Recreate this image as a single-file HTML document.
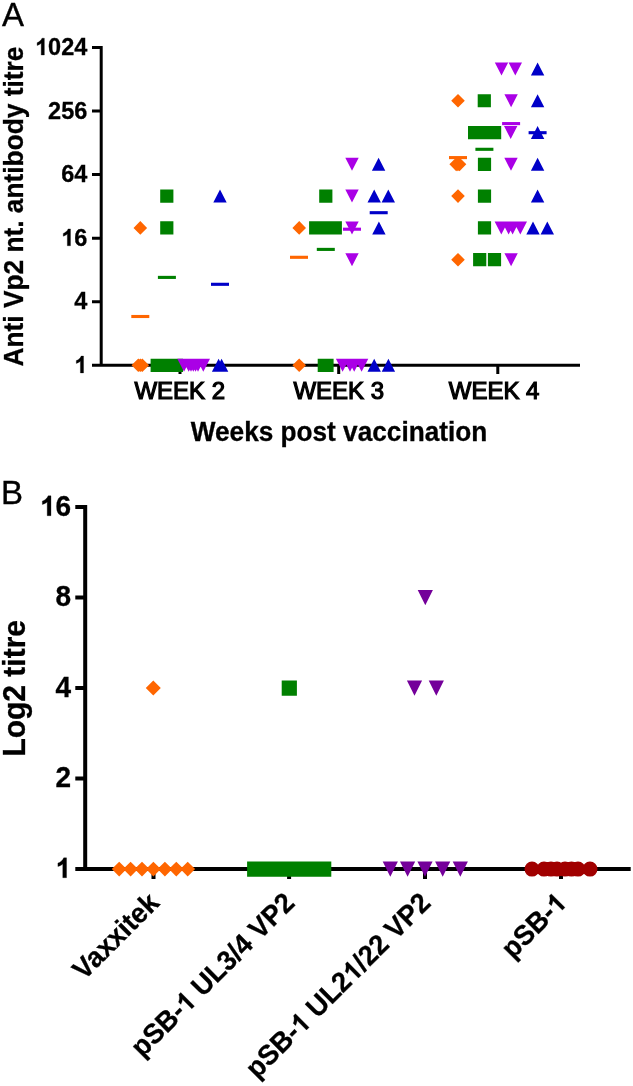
<!DOCTYPE html>
<html><head><meta charset="utf-8"><style>
html,body{margin:0;padding:0;background:#fff;}
svg{display:block;will-change:transform;}
</style></head><body>
<svg width="633" height="1086" viewBox="0 0 633 1086">
<rect width="633" height="1086" fill="#fff"/>
<path d="M99.70 45.90H102.70V366.80H99.70ZM92.00 45.90H101.20V48.90H92.00ZM92.00 109.48H101.20V112.48H92.00ZM92.00 173.06H101.20V176.06H92.00ZM92.00 236.64H101.20V239.64H92.00ZM92.00 300.22H101.20V303.22H92.00ZM92.00 363.80H101.20V366.80H92.00ZM99.70 363.80H580.00V366.80H99.70ZM178.50 365.30H181.50V374.00H178.50ZM337.20 365.30H340.20V374.00H337.20ZM496.30 365.30H499.30V374.00H496.30Z" fill="#000"/>
<path d="M140.30 221.11L147.10 227.91L140.30 234.71L133.50 227.91ZM138.30 358.50L145.10 365.30L138.30 372.10L131.50 365.30ZM140.30 358.50L147.10 365.30L140.30 372.10L133.50 365.30ZM142.30 358.50L149.10 365.30L142.30 372.10L135.50 365.30ZM299.20 221.11L306.00 227.91L299.20 234.71L292.40 227.91ZM299.20 358.50L306.00 365.30L299.20 372.10L292.40 365.30ZM458.00 93.95L464.80 100.75L458.00 107.55L451.20 100.75ZM456.20 157.53L463.00 164.33L456.20 171.13L449.40 164.33ZM457.90 157.53L464.70 164.33L457.90 171.13L451.10 164.33ZM459.50 157.53L466.30 164.33L459.50 171.13L452.70 164.33ZM458.00 189.32L464.80 196.12L458.00 202.92L451.20 196.12ZM458.00 252.90L464.80 259.70L458.00 266.50L451.20 259.70Z" fill="#FF6600"/>
<path d="M160.20 189.52H173.40V202.72H160.20ZM160.20 221.31H173.40V234.51H160.20ZM150.60 358.70H163.80V371.90H150.60ZM153.80 358.70H167.00V371.90H153.80ZM157.00 358.70H170.20V371.90H157.00ZM160.20 358.70H173.40V371.90H160.20ZM163.40 358.70H176.60V371.90H163.40ZM166.60 358.70H179.80V371.90H166.60ZM169.80 358.70H183.00V371.90H169.80ZM319.20 189.52H332.40V202.72H319.20ZM309.10 221.31H322.30V234.51H309.10ZM318.90 221.31H332.10V234.51H318.90ZM328.70 221.31H341.90V234.51H328.70ZM317.70 358.70H330.90V371.90H317.70ZM320.40 358.70H333.60V371.90H320.40ZM477.70 94.15H490.90V107.35H477.70ZM468.00 125.94H481.20V139.14H468.00ZM478.00 125.94H491.20V139.14H478.00ZM488.00 125.94H501.20V139.14H488.00ZM477.90 157.73H491.10V170.93H477.90ZM477.90 189.52H491.10V202.72H477.90ZM477.90 221.31H491.10V234.51H477.90ZM473.10 253.10H486.30V266.30H473.10ZM487.90 253.10H501.10V266.30H487.90Z" fill="#008000"/>
<path d="M177.30 358.80L190.70 358.80L184.00 371.80ZM182.00 358.80L195.40 358.80L188.70 371.80ZM184.30 358.80L197.70 358.80L191.00 371.80ZM186.60 358.80L200.00 358.80L193.30 371.80ZM188.90 358.80L202.30 358.80L195.60 371.80ZM191.30 358.80L204.70 358.80L198.00 371.80ZM196.60 358.80L210.00 358.80L203.30 371.80ZM345.30 157.83L358.70 157.83L352.00 170.83ZM345.30 189.62L358.70 189.62L352.00 202.62ZM345.30 221.41L358.70 221.41L352.00 234.41ZM345.30 253.20L358.70 253.20L352.00 266.20ZM335.90 358.80L349.30 358.80L342.60 371.80ZM343.30 358.80L356.70 358.80L350.00 371.80ZM347.50 358.80L360.90 358.80L354.20 371.80ZM354.90 358.80L368.30 358.80L361.60 371.80ZM494.80 62.46L508.20 62.46L501.50 75.46ZM508.60 62.46L522.00 62.46L515.30 75.46ZM504.40 94.25L517.80 94.25L511.10 107.25ZM504.00 126.04L517.40 126.04L510.70 139.04ZM504.30 157.83L517.70 157.83L511.00 170.83ZM494.60 221.41L508.00 221.41L501.30 234.41ZM501.90 221.41L515.30 221.41L508.60 234.41ZM505.90 221.41L519.30 221.41L512.60 234.41ZM513.60 221.41L527.00 221.41L520.30 234.41ZM504.40 253.20L517.80 253.20L511.10 266.20Z" fill="#AA00E6"/>
<path d="M220.00 189.62L226.70 202.62L213.30 202.62ZM218.60 358.80L225.30 371.80L211.90 371.80ZM221.60 358.80L228.30 371.80L214.90 371.80ZM378.60 157.83L385.30 170.83L371.90 170.83ZM374.20 189.62L380.90 202.62L367.50 202.62ZM388.30 189.62L395.00 202.62L381.60 202.62ZM378.90 221.41L385.60 234.41L372.20 234.41ZM374.20 358.80L380.90 371.80L367.50 371.80ZM388.40 358.80L395.10 371.80L381.70 371.80ZM537.60 62.46L544.30 75.46L530.90 75.46ZM537.60 94.25L544.30 107.25L530.90 107.25ZM537.60 126.04L544.30 139.04L530.90 139.04ZM537.60 157.83L544.30 170.83L530.90 170.83ZM537.60 189.62L544.30 202.62L530.90 202.62ZM533.00 221.41L539.70 234.41L526.30 234.41ZM547.30 221.41L554.00 234.41L540.60 234.41Z" fill="#0000C8"/>
<rect x="131.30" y="314.95" width="18.00" height="3.10" fill="#FF6600"/>
<rect x="157.90" y="275.85" width="18.00" height="3.10" fill="#008000"/>
<rect x="211.00" y="282.75" width="18.00" height="3.10" fill="#0000C8"/>
<rect x="290.00" y="255.75" width="18.00" height="3.10" fill="#FF6600"/>
<rect x="316.80" y="247.85" width="18.00" height="3.10" fill="#008000"/>
<rect x="343.00" y="227.65" width="18.00" height="3.10" fill="#AA00E6"/>
<rect x="369.70" y="211.15" width="18.00" height="3.10" fill="#0000C8"/>
<rect x="449.00" y="156.05" width="18.00" height="3.10" fill="#FF6600"/>
<rect x="475.40" y="147.75" width="18.00" height="3.10" fill="#008000"/>
<rect x="502.10" y="122.05" width="18.00" height="3.10" fill="#AA00E6"/>
<rect x="528.60" y="131.15" width="18.00" height="3.10" fill="#0000C8"/>
<path d="M83.20 505.10H87.20V871.10H83.20ZM75.30 505.10H85.20V509.10H75.30ZM75.30 595.60H85.20V599.60H75.30ZM75.30 686.10H85.20V690.10H75.30ZM75.30 776.60H85.20V780.60H75.30ZM75.30 867.10H85.20V871.10H75.30ZM83.20 867.10H630.70V871.10H83.20ZM151.50 869.10H155.50V879.00H151.50ZM287.10 869.10H291.10V879.00H287.10ZM423.00 869.10H427.00V879.00H423.00ZM559.00 869.10H563.00V879.00H559.00Z" fill="#000"/>
<path d="M119.20 861.70L126.60 869.10L119.20 876.50L111.80 869.10ZM130.60 861.70L138.00 869.10L130.60 876.50L123.20 869.10ZM142.00 861.70L149.40 869.10L142.00 876.50L134.60 869.10ZM153.40 861.70L160.80 869.10L153.40 876.50L146.00 869.10ZM164.90 861.70L172.30 869.10L164.90 876.50L157.50 869.10ZM176.30 861.70L183.70 869.10L176.30 876.50L168.90 869.10ZM187.70 861.70L195.10 869.10L187.70 876.50L180.30 869.10ZM153.30 680.60L160.80 688.10L153.30 695.60L145.80 688.10Z" fill="#FF6600"/>
<path d="M247.10 861.50H262.30V876.70H247.10ZM258.60 861.50H273.80V876.70H258.60ZM270.10 861.50H285.30V876.70H270.10ZM281.60 861.50H296.80V876.70H281.60ZM293.10 861.50H308.30V876.70H293.10ZM304.60 861.50H319.80V876.70H304.60ZM316.10 861.50H331.30V876.70H316.10ZM281.70 680.50H296.90V695.70H281.70Z" fill="#008000"/>
<path d="M382.70 861.50L397.90 861.50L390.30 876.70ZM400.00 861.50L415.20 861.50L407.60 876.70ZM417.40 861.50L432.60 861.50L425.00 876.70ZM435.10 861.50L450.30 861.50L442.70 876.70ZM452.70 861.50L467.90 861.50L460.30 876.70ZM406.90 680.50L422.10 680.50L414.50 695.70ZM428.70 680.50L443.90 680.50L436.30 695.70ZM417.70 590.00L432.90 590.00L425.30 605.20Z" fill="#74009A"/>
<path d="M524.50 869.10a7.50 7.50 0 1 0 15.00 0a7.50 7.50 0 1 0 -15.00 0ZM536.50 869.10a7.50 7.50 0 1 0 15.00 0a7.50 7.50 0 1 0 -15.00 0ZM543.50 869.10a7.50 7.50 0 1 0 15.00 0a7.50 7.50 0 1 0 -15.00 0ZM549.50 869.10a7.50 7.50 0 1 0 15.00 0a7.50 7.50 0 1 0 -15.00 0ZM557.50 869.10a7.50 7.50 0 1 0 15.00 0a7.50 7.50 0 1 0 -15.00 0ZM564.00 869.10a7.50 7.50 0 1 0 15.00 0a7.50 7.50 0 1 0 -15.00 0ZM570.50 869.10a7.50 7.50 0 1 0 15.00 0a7.50 7.50 0 1 0 -15.00 0ZM582.50 869.10a7.50 7.50 0 1 0 15.00 0a7.50 7.50 0 1 0 -15.00 0Z" fill="#A10000"/>
<text transform="translate(2.1,25.9) scale(1,1.03)" font-family="Liberation Sans, sans-serif" font-size="33" fill="#000" stroke="#000" stroke-width="0.35">A</text>
<g transform="translate(87.3,55.00) scale(1,1.04)"><text id="t0" x="0" y="0" font-family="Liberation Sans, sans-serif" font-size="23.5" font-weight="bold" text-anchor="end"  stroke="#000" stroke-width="0.3">&#x2007;024</text><path transform="translate(-52.27,0.00) scale(0.01147,-0.01103)" d="M538 0H813V1466H606C576 1376 514 1292 424 1216C334 1140 262 1098 182 1077V827C262 851 343 887 414 928C485 969 538 1010 538 1036Z" stroke="#000" stroke-width="26.14468085106383" stroke-linejoin="round"/></g>
<g transform="translate(87.3,118.58) scale(1,1.04)"><text id="t1" x="0" y="0" font-family="Liberation Sans, sans-serif" font-size="23.5" font-weight="bold" text-anchor="end"  stroke="#000" stroke-width="0.3">256</text></g>
<g transform="translate(87.3,182.16) scale(1,1.04)"><text id="t2" x="0" y="0" font-family="Liberation Sans, sans-serif" font-size="23.5" font-weight="bold" text-anchor="end"  stroke="#000" stroke-width="0.3">64</text></g>
<g transform="translate(87.3,245.74) scale(1,1.04)"><text id="t3" x="0" y="0" font-family="Liberation Sans, sans-serif" font-size="23.5" font-weight="bold" text-anchor="end"  stroke="#000" stroke-width="0.3">&#x2007;6</text><path transform="translate(-26.14,0.00) scale(0.01147,-0.01103)" d="M538 0H813V1466H606C576 1376 514 1292 424 1216C334 1140 262 1098 182 1077V827C262 851 343 887 414 928C485 969 538 1010 538 1036Z" stroke="#000" stroke-width="26.14468085106383" stroke-linejoin="round"/></g>
<g transform="translate(87.3,309.32) scale(1,1.04)"><text id="t4" x="0" y="0" font-family="Liberation Sans, sans-serif" font-size="23.5" font-weight="bold" text-anchor="end"  stroke="#000" stroke-width="0.3">4</text></g>
<g transform="translate(87.3,372.90) scale(1,1.04)"><text id="t5" x="0" y="0" font-family="Liberation Sans, sans-serif" font-size="23.5" font-weight="bold" text-anchor="end"  stroke="#000" stroke-width="0.3">&#x2007;</text><path transform="translate(-13.08,0.00) scale(0.01147,-0.01103)" d="M538 0H813V1466H606C576 1376 514 1292 424 1216C334 1140 262 1098 182 1077V827C262 851 343 887 414 928C485 969 538 1010 538 1036Z" stroke="#000" stroke-width="26.14468085106383" stroke-linejoin="round"/></g>
<g transform="translate(23.4,366.5) rotate(-90) scale(1,1.05)"><text id="t6" x="0" y="0" font-family="Liberation Sans, sans-serif" font-size="26.3" font-weight="bold" text-anchor="start"  stroke="#000" stroke-width="0.3">Anti Vp2 nt. antibody titre</text></g>
<g transform="translate(179.8,399) scale(1,1.0)"><text id="t7" x="0" y="0" font-family="Liberation Sans, sans-serif" font-size="24" font-weight="normal" text-anchor="middle" stroke="#000" stroke-width="1.2">WEEK 2</text></g>
<g transform="translate(338.79999999999995,399) scale(1,1.0)"><text id="t8" x="0" y="0" font-family="Liberation Sans, sans-serif" font-size="24" font-weight="normal" text-anchor="middle" stroke="#000" stroke-width="1.2">WEEK 3</text></g>
<g transform="translate(494.09999999999997,399) scale(1,1.0)"><text id="t9" x="0" y="0" font-family="Liberation Sans, sans-serif" font-size="24" font-weight="normal" text-anchor="middle" stroke="#000" stroke-width="1.2">WEEK 4</text></g>
<g transform="translate(339,441) scale(1,1.04)"><text id="t10" x="0" y="0" font-family="Liberation Sans, sans-serif" font-size="26.2" font-weight="bold" text-anchor="middle"  stroke="#000" stroke-width="0.3">Weeks post vaccination</text></g>
<text transform="translate(0.9,504.0) scale(1,1.03)" font-family="Liberation Sans, sans-serif" font-size="33" fill="#000" stroke="#000" stroke-width="0.35">B</text>
<g transform="translate(71,515.70) scale(1,1.03)"><text id="t11" x="0" y="0" font-family="Liberation Sans, sans-serif" font-size="28" font-weight="bold" text-anchor="end"  stroke="#000" stroke-width="0.3">&#x2007;6</text><path transform="translate(-31.14,0.00) scale(0.01367,-0.01314)" d="M538 0H813V1466H606C576 1376 514 1292 424 1216C334 1140 262 1098 182 1077V827C262 851 343 887 414 928C485 969 538 1010 538 1036Z" stroke="#000" stroke-width="21.942857142857143" stroke-linejoin="round"/></g>
<g transform="translate(71,606.20) scale(1,1.03)"><text id="t12" x="0" y="0" font-family="Liberation Sans, sans-serif" font-size="28" font-weight="bold" text-anchor="end"  stroke="#000" stroke-width="0.3">8</text></g>
<g transform="translate(71,696.70) scale(1,1.03)"><text id="t13" x="0" y="0" font-family="Liberation Sans, sans-serif" font-size="28" font-weight="bold" text-anchor="end"  stroke="#000" stroke-width="0.3">4</text></g>
<g transform="translate(71,787.20) scale(1,1.03)"><text id="t14" x="0" y="0" font-family="Liberation Sans, sans-serif" font-size="28" font-weight="bold" text-anchor="end"  stroke="#000" stroke-width="0.3">2</text></g>
<g transform="translate(71,877.70) scale(1,1.03)"><text id="t15" x="0" y="0" font-family="Liberation Sans, sans-serif" font-size="28" font-weight="bold" text-anchor="end"  stroke="#000" stroke-width="0.3">&#x2007;</text><path transform="translate(-15.58,0.00) scale(0.01367,-0.01314)" d="M538 0H813V1466H606C576 1376 514 1292 424 1216C334 1140 262 1098 182 1077V827C262 851 343 887 414 928C485 969 538 1010 538 1036Z" stroke="#000" stroke-width="21.942857142857143" stroke-linejoin="round"/></g>
<g transform="translate(24.8,756.6) rotate(-90) scale(1,1.04)"><text id="t16" x="0" y="0" font-family="Liberation Sans, sans-serif" font-size="30" font-weight="bold" text-anchor="start"  stroke="#000" stroke-width="0.3">Log2 titre</text></g>
<g transform="translate(160.5,904.5) rotate(-45) scale(1,1.04)"><text id="t17" x="0" y="0" font-family="Liberation Sans, sans-serif" font-size="27" font-weight="bold" text-anchor="end"  stroke="#000" stroke-width="0.3">Vaxxitek</text></g>
<g transform="translate(296.1,904.5) rotate(-45) scale(1,1.04)"><text id="t18" x="0" y="0" font-family="Liberation Sans, sans-serif" font-size="27" font-weight="bold" text-anchor="end"  stroke="#000" stroke-width="0.3">pSB-&#x2007; UL3/4 VP2</text><path transform="translate(-154.52,0.00) scale(0.01318,-0.01267)" d="M538 0H813V1466H606C576 1376 514 1292 424 1216C334 1140 262 1098 182 1077V827C262 851 343 887 414 928C485 969 538 1010 538 1036Z" stroke="#000" stroke-width="22.755555555555556" stroke-linejoin="round"/></g>
<g transform="translate(432.0,904.5) rotate(-45) scale(1,1.04)"><text id="t19" x="0" y="0" font-family="Liberation Sans, sans-serif" font-size="27" font-weight="bold" text-anchor="end"  stroke="#000" stroke-width="0.3">pSB-&#x2007; UL2&#x2007;/22 VP2</text><path transform="translate(-184.54,0.00) scale(0.01318,-0.01267)" d="M538 0H813V1466H606C576 1376 514 1292 424 1216C334 1140 262 1098 182 1077V827C262 851 343 887 414 928C485 969 538 1010 538 1036Z" stroke="#000" stroke-width="22.755555555555556" stroke-linejoin="round"/><path transform="translate(-111.05,0.00) scale(0.01318,-0.01267)" d="M538 0H813V1466H606C576 1376 514 1292 424 1216C334 1140 262 1098 182 1077V827C262 851 343 887 414 928C485 969 538 1010 538 1036Z" stroke="#000" stroke-width="22.755555555555556" stroke-linejoin="round"/></g>
<g transform="translate(568.0,904.5) rotate(-45) scale(1,1.04)"><text id="t20" x="0" y="0" font-family="Liberation Sans, sans-serif" font-size="27" font-weight="bold" text-anchor="end"  stroke="#000" stroke-width="0.3">pSB-&#x2007;</text><path transform="translate(-15.02,0.00) scale(0.01318,-0.01267)" d="M538 0H813V1466H606C576 1376 514 1292 424 1216C334 1140 262 1098 182 1077V827C262 851 343 887 414 928C485 969 538 1010 538 1036Z" stroke="#000" stroke-width="22.755555555555556" stroke-linejoin="round"/></g>
</svg></body></html>
